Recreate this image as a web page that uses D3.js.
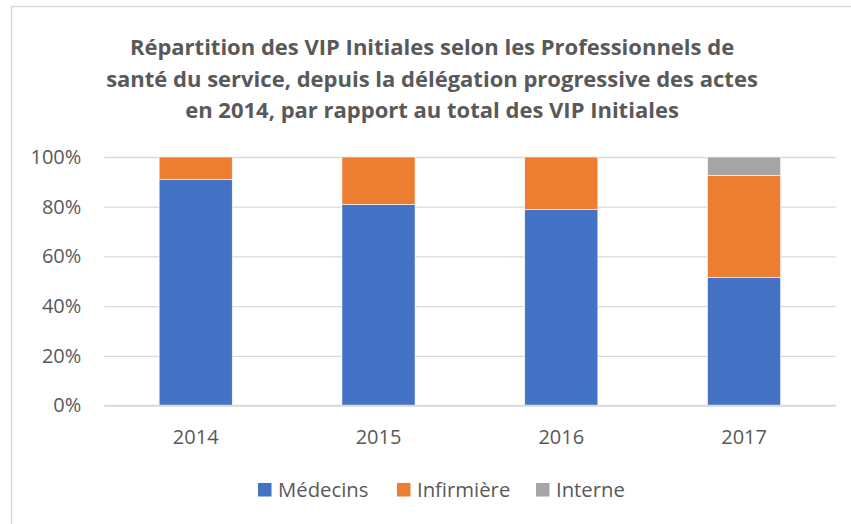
<!DOCTYPE html>
<html><head><meta charset="utf-8">
<script src="https://cdn.jsdelivr.net/npm/d3@7"></script>
<style>body{margin:0;background:#fff}svg{display:block}text{font-family:"Open Sans",sans-serif;fill:#595959}</style>
</head><body><svg id="c" width="851" height="524"></svg>
<script>
const years = ["2014","2015","2016","2017"];
const seriesNames = ["Médecins","Infirmière","Interne"];
const medecins   = [0.909, 0.809, 0.789, 0.516];
const infirmiere = [0.091, 0.191, 0.211, 0.409];
const interne    = [0.000, 0.000, 0.000, 0.075];
const yTicks = [0,0.2,0.4,0.6,0.8,1.0];
const titleLines = ["Répartition des VIP Initiales selon les Professionnels de",
  "santé du service, depuis la délégation progressive des actes",
  "en 2014, par rapport au total des VIP Initiales"];
const colors = ["#4472C4","#ED7D31","#A5A5A5"];

const svg = d3.select("#c");
svg.append("rect").attr("x",11.5).attr("y",6.5).attr("width",860).attr("height",540)
  .attr("fill","#fff").attr("stroke","#d9d9d9").attr("stroke-width",1.5);

const m = {left:104.3, right:835.5, top:157, bottom:405.5};
const x = d3.scaleBand().domain(years).range([m.left,m.right]).paddingInner(0.6).paddingOuter(0.3);
const y = d3.scaleLinear().domain([0,1]).range([m.bottom,m.top]);

// title
const t = svg.append("text").attr("text-anchor","middle").attr("font-weight","bold").attr("font-size",22);
titleLines.forEach((l,i)=>t.append("tspan").attr("x",432).attr("y",55+i*31.5).text(l));

// grid
const yAxis = d3.axisLeft(y).tickValues(yTicks).tickFormat(d3.format(".0%")).tickSize(-(m.right-m.left)).tickPadding(23);
const gy = svg.append("g").attr("transform",`translate(${m.left},0)`).call(yAxis);
gy.select(".domain").remove();
gy.selectAll(".tick line").attr("stroke","#d9d9d9").attr("stroke-width",1.3);
gy.selectAll(".tick text").attr("font-size",20).style("fill","#595959");

// stacked bars
const rows = years.map((yr,i)=>({year:yr, "Médecins":medecins[i], "Infirmière":infirmiere[i], "Interne":interne[i]}));
const stack = d3.stack().keys(seriesNames)(rows);
svg.append("g").selectAll("g").data(stack).join("g").attr("fill",(d,i)=>colors[i])
  .selectAll("rect").data(d=>d).join("rect")
  .attr("x",d=>x(d.data.year)).attr("width",x.bandwidth())
  .attr("y",d=>y(d[1])).attr("height",d=>y(d[0])-y(d[1]))
  .attr("stroke","#fff").attr("stroke-width",0.6);

// x axis
const xAxis = d3.axisBottom(x).tickSize(0).tickPadding(24);
const gx = svg.append("g").attr("transform",`translate(0,${m.bottom})`).call(xAxis);
gx.select(".domain").attr("stroke","#d9d9d9").attr("stroke-width",1.3).attr("d",`M${m.left},0H${m.right}`);
gx.selectAll(".tick text").attr("font-size",20).style("fill","#595959");

// legend
const legX = [258, 397, 536];
const lg = svg.append("g");
seriesNames.forEach((n,i)=>{
  lg.append("rect").attr("x",legX[i]).attr("y",483).attr("width",13.5).attr("height",13.5).attr("fill",colors[i]);
  lg.append("text").attr("x",legX[i]+20).attr("y",497).attr("font-size",20.3).text(n);
});
</script></body></html>
